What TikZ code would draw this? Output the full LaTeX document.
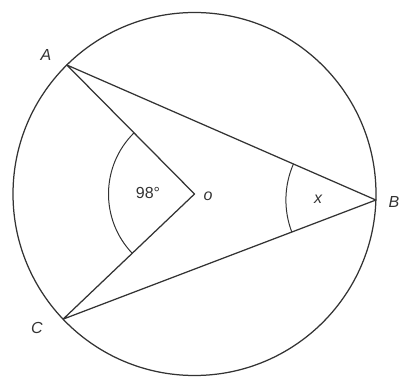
\documentclass[tikz,border=0pt]{standalone}
\usepackage{fontspec}
\setmainfont{Liberation Sans}
\usetikzlibrary{calc}
\definecolor{traitGris}{HTML}{333333}
\tikzset{
  %% lines of the figure
  trait/.style     = {draw=traitGris, line width=1.25pt, line join=round},
  arcAngle/.style  = {draw=traitGris, line width=1pt},
  %% letters of the points, and the measures
  etiquette/.style = {font=\fontsize{16}{19}\selectfont\itshape, text=traitGris,
                      inner sep=0pt},
  mesure/.style    = {font=\fontsize{16}{19}\selectfont, text=traitGris,
                      inner sep=0pt},
}
\begin{document}
\begin{tikzpicture}[x=1pt, y=1pt]
\useasboundingbox (-194.5,-185) rectangle (206.5,194);

\coordinate (O) at (0,0);
\coordinate (A) at (134.7:181.5);
\coordinate (B) at (-1.9:181.5);
\coordinate (C) at (223.6:181.5);

\draw[trait] (O) circle[radius=181.5];
\draw[trait] (A) -- (O) -- (C) -- (B) -- cycle;

\draw[arcAngle] ($(O)+(134.7:86)$) arc[start angle=134.7, end angle=223.6, radius=86];
\draw[arcAngle] ($(B)+(156.4:90)$) arc[start angle=156.4, end angle=200.9, radius=90];

\node[etiquette] (lA) at (-148.5, 139) {A};
\node[etiquette] (lB) at (199.5, -8) {B};
\node[etiquette] (lC) at (-157.5, -134) {C};
\node[etiquette] (lO) at (13.5, -2) {o};
\node[mesure]    (angO) at (-46.5, 1) {98°};
\node[etiquette] (angB) at (123.5, -5) {x};

\end{tikzpicture}
\end{document}
